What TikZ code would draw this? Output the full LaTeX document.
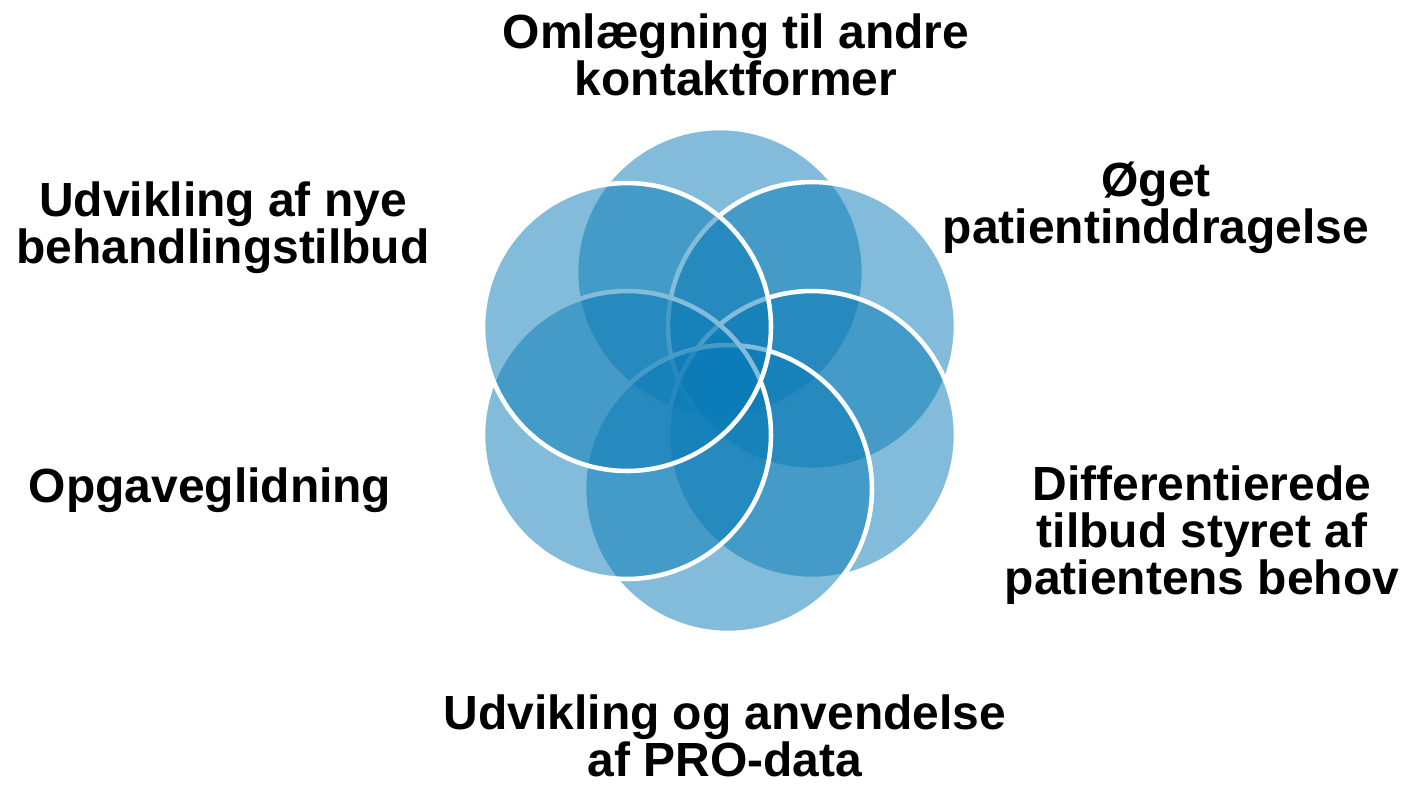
\documentclass[tikz,border=0pt]{standalone}
\usepackage{fontspec}
\setmainfont{Liberation Sans}
\definecolor{petalblue}{RGB}{8,122,182}
\begin{document}
\begin{tikzpicture}[x=0.02cm, y=-0.02cm, line join=round, line cap=round,
	petal/.style={fill=petalblue, fill opacity=0.5, draw=white, draw opacity=1, line width=2.6pt},
	lbl/.style={font=\bfseries\fontsize{27.3}{26.7}\selectfont, align=center, text=black, inner sep=0pt}]
	\useasboundingbox (0,0) rectangle (1406,785);
	\path
	(720,272) coordinate (T)
	(812,326) coordinate (UR)
	(812,435) coordinate (LR)
	(728,489) coordinate (B)
	(627,435) coordinate (LL)
	(627,327) coordinate (UL);
	\foreach \c in {T,UR,LR,B,LL,UL}
	\draw[petal] (\c) circle (2.88cm);
	\node[lbl] (omlaeg) at (736,55) {Omlægning til andre\\kontaktformer};
	\node[lbl] (oeget) at (1156,208) {Øget\\patientinddragelse};
	\node[lbl] (diff) at (1202,535) {Differentierede\\tilbud styret af\\patientens behov};
	\node[lbl] (prodata) at (725,736) {Udvikling og anvendelse\\af PRO-data};
	\node[lbl] (opgave) at (210,490) {Opgaveglidning};
	\node[lbl] (nye) at (223,228) {Udvikling af nye\\behandlingstilbud};
\end{tikzpicture}
\end{document}
